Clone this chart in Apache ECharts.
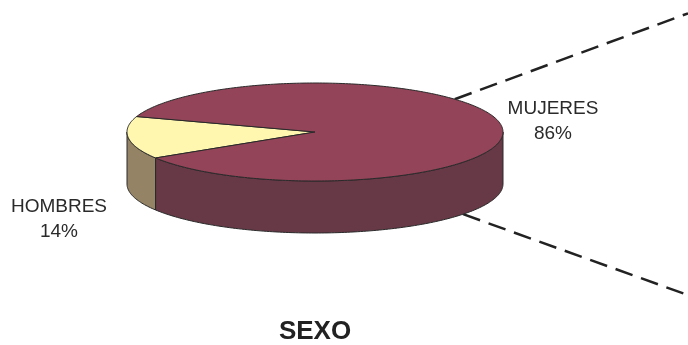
<!DOCTYPE html>
<html><head><meta charset="utf-8">
<script src="https://cdn.jsdelivr.net/npm/echarts@6/dist/echarts.min.js"></script>
<style>html,body{margin:0;padding:0;background:#fff}#c{width:688px;height:345px}</style>
</head><body><div id="c"></div>
<script>
const categories = ['HOMBRES', 'MUJERES'];
const values = [14, 86];
const chartTitle = 'SEXO';

const topColors = ['#FFF7B0', '#934459'];
const sideColors = ['#958365', '#673947'];
const PIE = {cx: 315, cy: 132, rx: 188, ry: 49, depth: 52, start: 148};
const LABEL_POS = [[59, 219], [553, 121]];
const FONT = "'Liberation Sans', Arial, sans-serif";

const total = values.reduce((a, b) => a + b, 0);
const rad = d => d * Math.PI / 180;
const pt = (deg, dy) => [PIE.cx + PIE.rx * Math.cos(rad(deg)), PIE.cy + dy + PIE.ry * Math.sin(rad(deg))];
const arc = (s, e, dy) => {
  const pts = [];
  const n = Math.max(2, Math.ceil(Math.abs(e - s)));
  for (let j = 0; j <= n; j++) pts.push(pt(s + (e - s) * j / n, dy));
  return pts;
};

function renderItem(params, api) {
  const i = params.dataIndex;
  let acc = 0;
  for (let k = 0; k < i; k++) acc += values[k];
  const a0 = PIE.start + acc / total * 360;
  const a1 = a0 + api.value(1) / total * 360;
  const children = [];
  for (const [fs, fe] of [[0, 180], [360, 540]]) {
    const s = Math.max(a0, fs), e = Math.min(a1, fe);
    if (e > s) {
      children.push({
        type: 'polygon', z2: 1,
        shape: {points: arc(s, e, 0).concat(arc(e, s, PIE.depth))},
        style: {fill: sideColors[i], stroke: '#2a2a2a', lineWidth: 1}
      });
    }
  }
  children.push({
    type: 'polygon', z2: 10,
    shape: {points: [[PIE.cx, PIE.cy]].concat(arc(a0, a1, 0))},
    style: {fill: topColors[i], stroke: '#2a2a2a', lineWidth: 1}
  });
  return {type: 'group', children};
}

// connector lines (pie-of-pie style) from pie rim
const up0 = pt(318, 0), lo0 = pt(38, PIE.depth);
const graphics = [
  {type: 'line', shape: {x1: up0[0], y1: up0[1], x2: 688, y2: up0[1] - 0.368 * (688 - up0[0])},
   style: {stroke: '#222', lineWidth: 2.5, lineDash: [18, 9]}},
  {type: 'line', shape: {x1: lo0[0], y1: lo0[1], x2: 688, y2: lo0[1] + 0.36 * (688 - lo0[0])},
   style: {stroke: '#222', lineWidth: 2.5, lineDash: [18, 9]}},
  {type: 'text', x: 315, y: 332,
   style: {text: chartTitle, font: 'bold 26px ' + FONT, fill: '#222', textAlign: 'center', textVerticalAlign: 'middle'}}
];
categories.forEach((c, i) => {
  graphics.push({type: 'text', x: LABEL_POS[i][0], y: LABEL_POS[i][1],
    style: {text: c + '\n' + Math.round(values[i] / total * 100) + '%', font: '19px ' + FONT,
      lineHeight: 25, fill: '#2a2a2a', textAlign: 'center', textVerticalAlign: 'middle'}});
});

const chart = echarts.init(document.getElementById('c'));
chart.setOption({
  backgroundColor: '#fff',
  animation: false,
  graphic: graphics,
  series: [{
    type: 'custom',
    coordinateSystem: 'none',
    renderItem,
    data: values.map((v, i) => ({name: categories[i], value: [i, v]}))
  }]
});
</script></body></html>
